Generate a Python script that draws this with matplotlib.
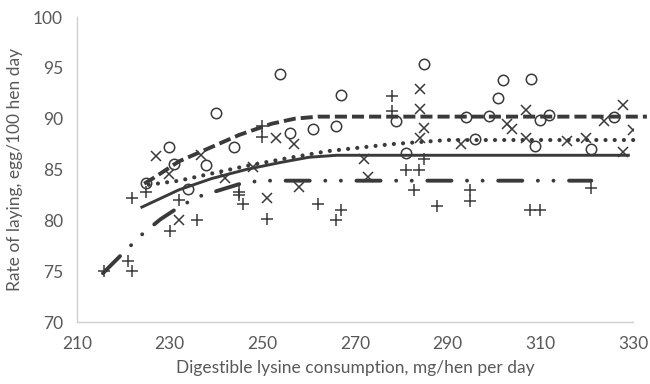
import matplotlib.pyplot as plt

plt.rcParams['font.family'] = ['Lato', 'DejaVu Sans']

# Observed points (digestible lysine intake, laying rate)
circle_x = [224.9, 229.9, 230.9, 233.9, 237.8, 240.0, 243.9, 253.9, 256.0, 261.0, 265.9, 266.9, 278.9,
            280.9, 284.9, 293.9, 296.0, 298.9, 300.9, 301.9, 307.9, 308.9, 309.9, 311.9, 320.9, 325.8]
circle_y = [83.7, 87.2, 85.5, 83.05, 85.4, 90.6, 87.25, 94.4, 88.6, 89.0, 89.3, 92.3, 89.8,
            86.6, 95.4, 90.2, 88.0, 90.3, 92.0, 93.8, 93.9, 87.35, 89.9, 90.4, 87.0, 90.2]

cross_x = [227.0, 229.9, 232.0, 236.8, 242.0, 248.0, 250.9, 253.0, 256.8, 258.0, 271.9, 272.9, 284.0, 284.0,
           284.9, 284.0, 292.9, 302.8, 303.8, 306.9, 306.9, 315.8, 319.8, 323.8, 327.8, 329.9, 327.8]
cross_y = [86.3, 84.6, 80.0, 86.4, 84.2, 85.2, 82.2, 88.1, 87.5, 83.3, 86.0, 84.3, 92.9, 91.0,
           89.1, 88.1, 87.5, 89.5, 89.0, 90.9, 88.1, 87.8, 88.1, 89.8, 91.3, 88.9, 86.75]

plus_x = [215.8, 220.9, 221.9, 221.9, 224.9, 230.0, 232.0, 236.0, 245.0, 245.0, 245.9, 250.0, 250.0, 250.9,
          262.0, 265.9, 266.9, 278.0, 278.0, 280.9, 282.8, 283.9, 284.9, 287.8, 294.8, 294.8, 307.8,
          309.9, 320.9]
plus_y = [75.0, 76.0, 75.0, 82.2, 82.8, 79.0, 82.0, 80.0, 82.8, 82.5, 81.6, 89.3, 88.2, 80.1,
          81.6, 80.0, 81.0, 92.2, 90.8, 85.0, 83.0, 85.0, 86.0, 81.4, 83.0, 81.9, 81.0,
          81.0, 83.2]

# Fitted response curves
dashed_x = [224.5, 227, 232, 238, 245, 252, 257, 262, 333]
dashed_y = [83.6, 84.3, 85.8, 87.0, 88.4, 89.5, 90.0, 90.2, 90.2]

dotted_x = [225.5, 232, 239, 246, 254, 264, 278, 290, 331]
dotted_y = [83.5, 83.9, 84.6, 85.3, 86.0, 86.8, 87.5, 87.9, 87.9]

solid_x = [224, 232, 239, 246.5, 254, 260, 266, 329]
solid_y = [81.3, 83.0, 84.1, 85.0, 85.7, 86.2, 86.4, 86.4]

dashdot_x = [215.6, 220, 224, 228, 232, 236, 241, 246, 250, 321]
dashdot_y = [74.8, 76.8, 78.6, 80.1, 81.3, 82.3, 83.0, 83.7, 83.9, 83.9]

ink = '#3a3a3a'
grey = '#595959'

fig = plt.figure(figsize=(6.5, 3.84), dpi=100)
ax = fig.add_axes([77 / 650, 1 - 322 / 384, (633 - 77) / 650, (322 - 17) / 384])

ax.plot(circle_x, circle_y, 'o', ms=7.5, mfc='none', mec=ink, mew=1.1, ls='none')
ax.plot(cross_x, cross_y, 'x', ms=7.5, mec=ink, mew=1.1, ls='none')
ax.plot(plus_x, plus_y, '+', ms=8, mec=ink, mew=1.1, ls='none')

ax.plot(dashed_x, dashed_y, color=ink, lw=2.8, ls=(0, (3.1, 1.3)), clip_on=False)
ax.plot(dotted_x, dotted_y, color=ink, lw=3.0, ls=(0, (0.01, 2.2)),
        dash_capstyle='round', clip_on=False)
ax.plot(solid_x, solid_y, color=ink, lw=2.1, clip_on=False)
ax.plot(dashdot_x, dashdot_y, color=ink, lw=2.8, ls=(0, (6.2, 4.0, 0.01, 4.0, 0.01, 4.0)),
        dash_capstyle='round', clip_on=False)

ax.set_xlim(210, 330)
ax.set_ylim(70, 100)
ax.set_xticks(range(210, 331, 20))
ax.set_yticks(range(70, 101, 5))

for side in ['top', 'right']:
    ax.spines[side].set_visible(False)
for side in ['left', 'bottom']:
    ax.spines[side].set_color('#d0d0d0')
    ax.spines[side].set_linewidth(1.0)

ax.tick_params(length=0, labelsize=12.5, labelcolor=grey)
ax.tick_params(axis='x', pad=10)
ax.tick_params(axis='y', pad=10)

ax.set_xlabel('Digestible lysine consumption, mg/hen per day', fontsize=12.5, color=grey, labelpad=6)
ax.set_ylabel('Rate of laying, egg/100 hen day', fontsize=12.5, color=grey, labelpad=7)

fig.savefig('out.png', dpi=100)
